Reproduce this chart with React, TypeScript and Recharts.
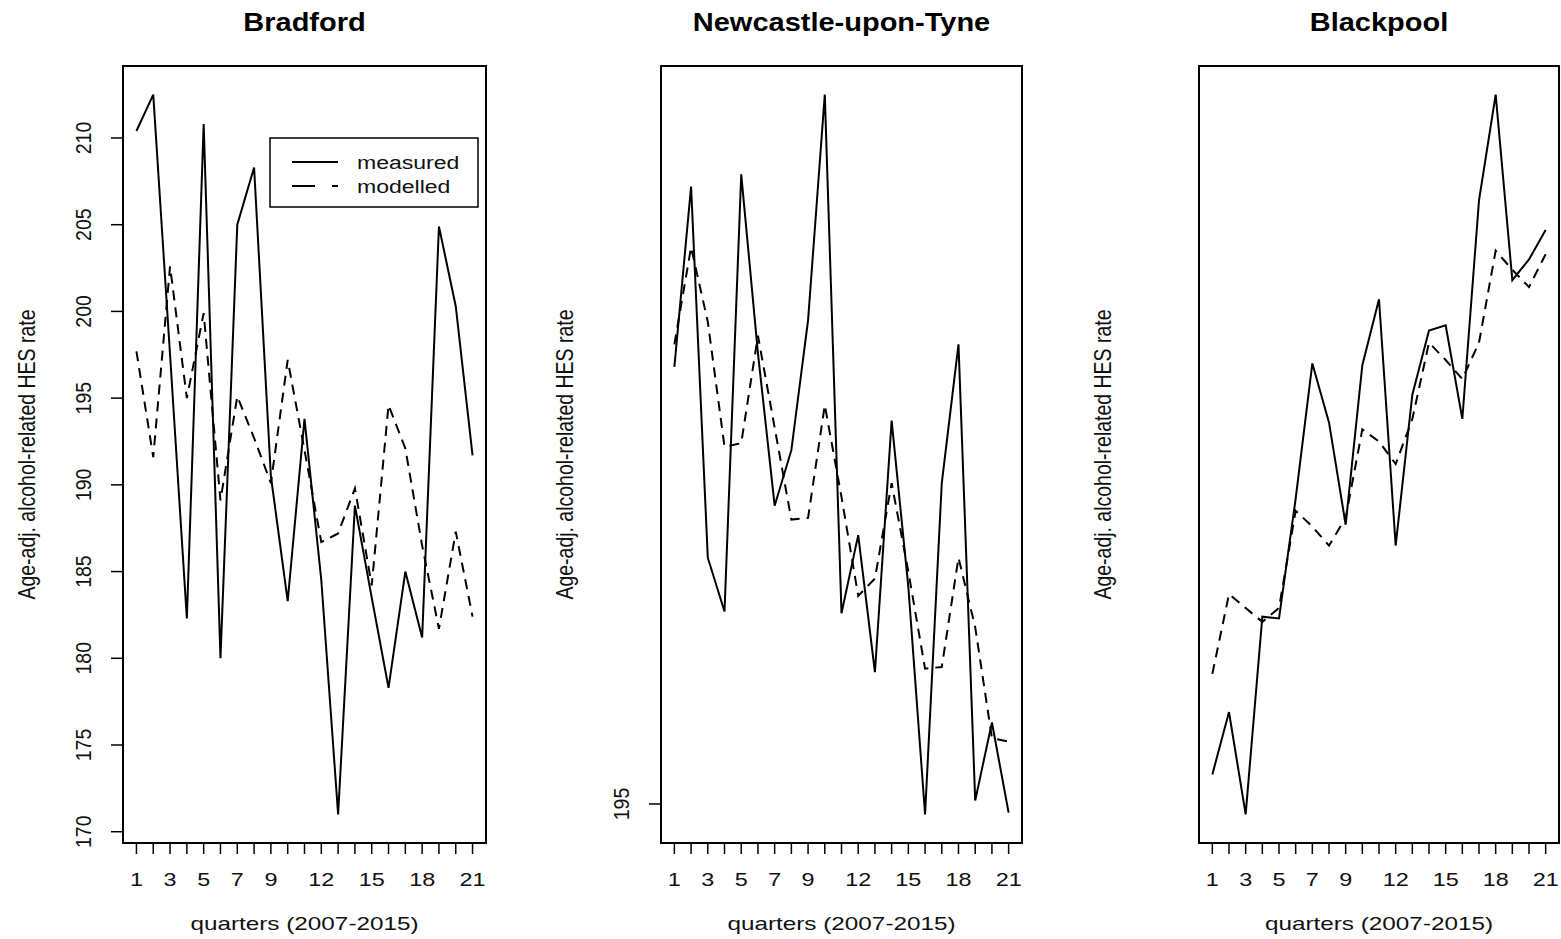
import React from 'react';
import { LineChart, Line, XAxis, YAxis, ReferenceArea } from 'recharts';

// quarters 2007-2015 (x axis)
const QUARTERS = [1, 2, 3, 4, 5, 6, 7, 8, 9, 10, 11, 12, 13, 14, 15, 16, 17, 18, 19, 20, 21];
const X_TICK_LABELS = [1, 3, 5, 7, 9, 12, 15, 18, 21];

const BRADFORD_MEASURED = [210.4, 212.5, 197.5, 182.3, 210.8, 180.0, 205.0, 208.3, 190.5, 183.3, 193.8, 184.5, 171.0, 188.8, 183.5, 178.3, 185.0, 181.2, 204.9, 200.3, 191.7];
const BRADFORD_MODELLED = [197.7, 191.6, 202.6, 195.0, 199.9, 189.1, 195.1, 192.7, 190.1, 197.2, 192.0, 186.7, 187.2, 189.8, 184.2, 194.6, 192.1, 186.5, 181.7, 187.3, 182.4];
const BRADFORD_Y_TICKS = [170, 175, 180, 185, 190, 195, 200, 205, 210];

const NEWCASTLE_MEASURED = [220.2, 230.6, 209.2, 206.1, 231.3, 221.0, 212.2, 215.4, 222.9, 235.9, 206.0, 210.5, 202.6, 217.1, 207.5, 194.4, 213.5, 221.5, 195.2, 199.7, 194.5];
const NEWCASTLE_MODELLED = [221.5, 227.1, 222.8, 215.6, 215.8, 222.0, 216.7, 211.4, 211.5, 218.0, 212.7, 207.0, 208.0, 213.5, 208.4, 202.8, 202.9, 209.2, 205.2, 198.8, 198.6];
const NEWCASTLE_Y_TICKS = [195];

const BLACKPOOL_MEASURED = [253.9, 257.5, 251.6, 263.0, 262.9, 269.8, 277.6, 274.2, 268.3, 277.5, 281.3, 267.1, 275.8, 279.5, 279.8, 274.4, 287.0, 293.1, 282.4, 283.6, 285.3];
const BLACKPOOL_MODELLED = [259.7, 264.3, 263.5, 262.7, 263.5, 269.1, 268.2, 267.1, 268.7, 273.8, 273.1, 271.8, 274.4, 278.8, 277.8, 276.7, 278.8, 284.1, 283.0, 282.0, 283.9];
const BLACKPOOL_Y_TICKS: number[] = [];

const X_TITLE = 'quarters (2007-2015)';
const Y_TITLE = 'Age-adj. alcohol-related HES rate';
const FONT = '"Liberation Sans", Arial, sans-serif';
const DASH = '10 7';

const BOX_TOP = 66;
const BOX_BOTTOM = 843;
const CHART_H = 939;
const Y_AXIS_W = 123;

interface PanelDef {
  title: string;
  measured: number[];
  modelled: number[];
  yTicks: number[];
  yDomain: [number, number];
  left: number;
  width: number;
  boxLeft: number;
  boxRight: number;
}

const PANELS: PanelDef[] = [
  { title: 'Bradford', measured: BRADFORD_MEASURED, modelled: BRADFORD_MODELLED, yTicks: BRADFORD_Y_TICKS, yDomain: [169.35, 214.15], left: 0, width: 500, boxLeft: 123, boxRight: 486 },
  { title: 'Newcastle-upon-Tyne', measured: NEWCASTLE_MEASURED, modelled: NEWCASTLE_MODELLED, yTicks: NEWCASTLE_Y_TICKS, yDomain: [192.75, 237.55], left: 538, width: 500, boxLeft: 661, boxRight: 1022 },
  { title: 'Blackpool', measured: BLACKPOOL_MEASURED, modelled: BLACKPOOL_MODELLED, yTicks: BLACKPOOL_Y_TICKS, yDomain: [249.95, 294.75], left: 1076, width: 485, boxLeft: 1199, boxRight: 1559 },
];

const XTick = (props: any) => {
  const { x, y, payload } = props;
  if (!X_TICK_LABELS.includes(payload.value)) return <g />;
  return (
    <text transform={`translate(${x},${y + 26}) scale(1.3,1)`} textAnchor="middle" dominantBaseline="central"
      fontSize={18} fontFamily={FONT} fill="#111">
      {payload.value}
    </text>
  );
};

const YTick = (props: any) => {
  const { x, y, payload } = props;
  return (
    <text transform={`translate(${x - 28},${y}) scale(1.15,1) rotate(-90)`} textAnchor="middle" dominantBaseline="central"
      fontSize={19.5} fontFamily={FONT} fill="#111">
      {payload.value}
    </text>
  );
};

function Panel({ p }: { p: PanelDef }) {
  const data = QUARTERS.map((q, i) => ({ q, measured: p.measured[i], modelled: p.modelled[i] }));
  const hasTicks = p.yTicks.length > 0;
  return (
    <div style={{ position: 'absolute', left: p.left, top: 0 }}>
      <LineChart width={p.width} height={CHART_H} data={data}
        margin={{ top: BOX_TOP, right: p.left + p.width - p.boxRight, bottom: 0, left: 0 }}>
        <XAxis dataKey="q" type="number" domain={[0.2, 21.8]} allowDataOverflow ticks={QUARTERS} interval={0}
          height={CHART_H - BOX_BOTTOM} axisLine={false} tickSize={11} tickMargin={0}
          tickLine={{ stroke: '#000', strokeWidth: 1.5 }} tick={<XTick />} />
        <YAxis type="number" domain={p.yDomain} allowDataOverflow width={Y_AXIS_W}
          ticks={hasTicks ? p.yTicks : undefined} interval={0} axisLine={false}
          tickSize={12} tickMargin={0}
          tickLine={hasTicks ? { stroke: '#000', strokeWidth: 1.5 } : false}
          tick={hasTicks ? <YTick /> : false} />
        <ReferenceArea x1={0.2} x2={21.8} y1={p.yDomain[0]} y2={p.yDomain[1]} fill="none" fillOpacity={0}
          stroke="#000" strokeWidth={2} ifOverflow="visible" />
        <Line type="linear" dataKey="measured" stroke="#000" strokeWidth={2} dot={false} isAnimationActive={false} />
        <Line type="linear" dataKey="modelled" stroke="#000" strokeWidth={2} strokeDasharray={DASH} dot={false} isAnimationActive={false} />
      </LineChart>
    </div>
  );
}

export default function App() {
  return (
    <div style={{ position: 'absolute', left: 0, top: 0, width: 1561, height: 939, background: '#fff', fontFamily: FONT }}>
      {PANELS.map((p) => <Panel key={p.title} p={p} />)}
      <svg width={1561} height={939} style={{ position: 'absolute', left: 0, top: 0, pointerEvents: 'none' }}>
        {PANELS.map((p) => {
          const cx = (p.boxLeft + p.boxRight) / 2;
          const cy = (BOX_TOP + BOX_BOTTOM) / 2;
          return (
            <g key={p.title}>
              <text transform={`translate(${cx},22) scale(1.16,1)`} textAnchor="middle" dominantBaseline="central"
                fontSize={25} fontWeight="bold" fontFamily={FONT} fill="#000">{p.title}</text>
              <text transform={`translate(${cx},924) scale(1.35,1)`} textAnchor="middle" dominantBaseline="central"
                fontSize={18} fontFamily={FONT} fill="#111">{X_TITLE}</text>
              <text transform={`translate(${p.boxLeft - 96},${cy}) scale(1.2,1) rotate(-90)`} textAnchor="middle"
                dominantBaseline="central" fontSize={19.5} fontFamily={FONT} fill="#111">{Y_TITLE}</text>
            </g>
          );
        })}
        {/* legend, Bradford panel */}
        <rect x={270} y={138} width={208} height={69} fill="#fff" stroke="#000" strokeWidth={1.5} />
        <line x1={292} x2={338} y1={162} y2={162} stroke="#000" strokeWidth={2} />
        <line x1={292} x2={338} y1={186} y2={186} stroke="#000" strokeWidth={2} strokeDasharray="23 17" />
        <text transform="translate(357,162) scale(1.28,1)" dominantBaseline="central" fontSize={18} fontFamily={FONT} fill="#111">measured</text>
        <text transform="translate(357,186) scale(1.28,1)" dominantBaseline="central" fontSize={18} fontFamily={FONT} fill="#111">modelled</text>
      </svg>
    </div>
  );
}
